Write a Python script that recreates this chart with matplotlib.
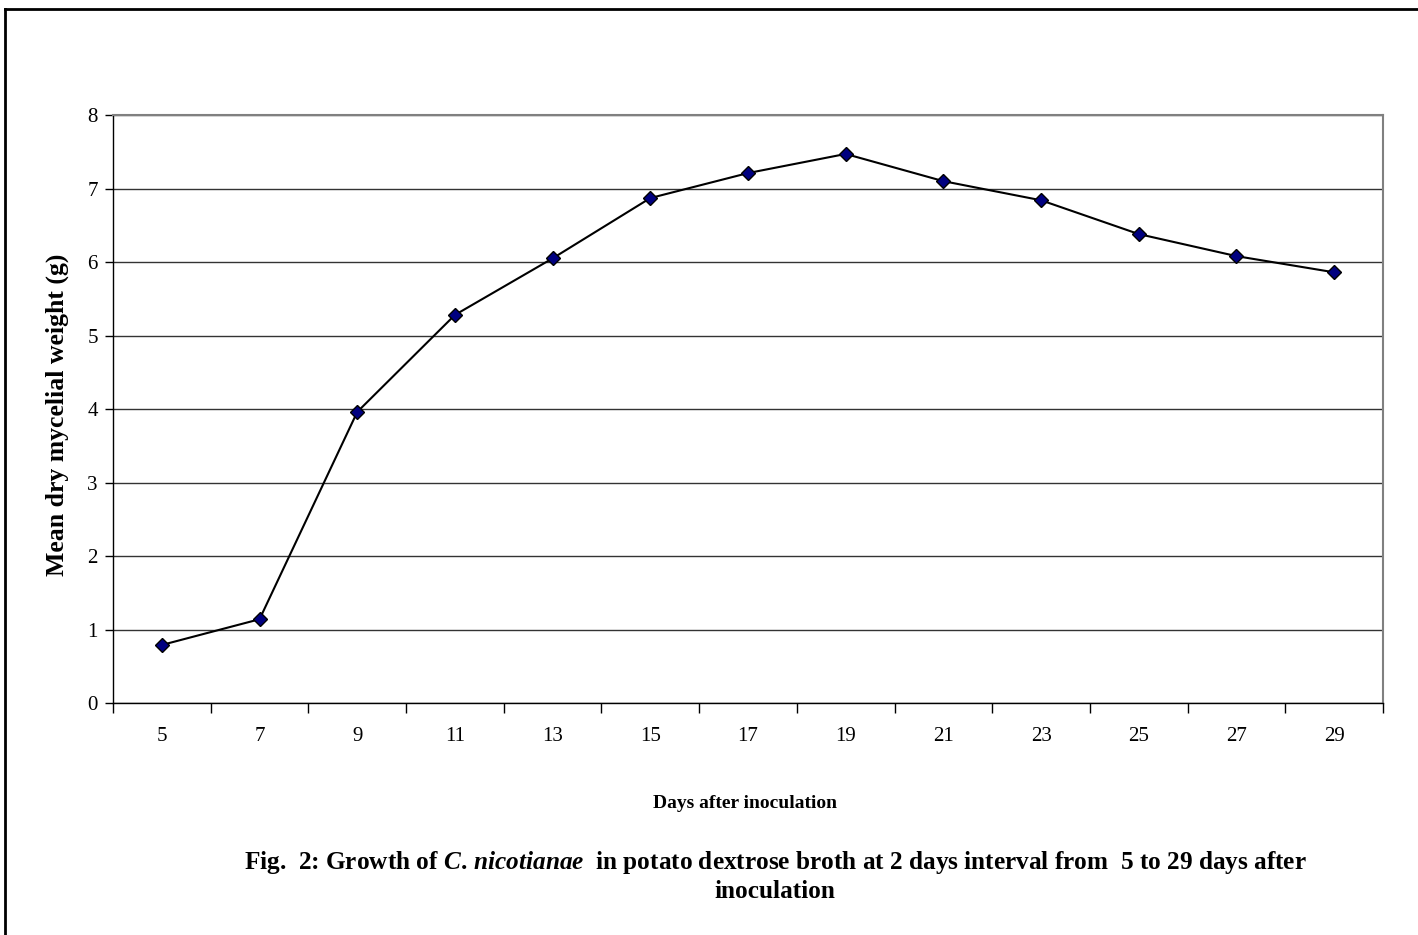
import matplotlib.pyplot as plt
from matplotlib.lines import Line2D

# Days after inoculation and mean dry mycelial weight (g)
days = [5, 7, 9, 11, 13, 15, 17, 19, 21, 23, 25, 27, 29]
weight = [0.79, 1.14, 3.96, 5.28, 6.05, 6.87, 7.21, 7.47, 7.10, 6.84, 6.38, 6.08, 5.86]

plt.rcParams['font.family'] = 'Liberation Serif'
plt.rcParams['mathtext.fontset'] = 'custom'
plt.rcParams['mathtext.rm'] = 'Liberation Serif:bold'
plt.rcParams['mathtext.it'] = 'Liberation Serif:italic:bold'

fig = plt.figure(figsize=(14.18, 9.35), dpi=100)
ax = fig.add_axes([0.0797, 0.2481, 0.8956, 0.6289])

pos = list(range(len(days)))
ax.plot(pos, weight, color='black', lw=1.5, marker='D', markersize=7.5,
        markerfacecolor='#000080', markeredgecolor='black', markeredgewidth=1, zorder=3)

ax.set_xlim(-0.5, len(days) - 0.5)
ax.set_ylim(0, 8)
ax.set_yticks(range(0, 9))
ax.yaxis.grid(True, color='#333333', lw=1)
ax.set_axisbelow(True)

# category labels centered, tick marks between categories
ax.set_xticks([p - 0.5 for p in pos] + [len(days) - 0.5])
ax.set_xticklabels([])
ax.set_xticks(pos, minor=True)
ax.set_xticklabels([str(d) for d in days], minor=True)
ax.tick_params(axis='x', which='major', direction='out', length=7, width=1, color='black')
ax.tick_params(axis='x', which='minor', length=0, pad=17, labelsize=15)
ax.tick_params(axis='y', direction='out', length=6, width=1, labelsize=15, pad=5)

ax.spines['top'].set_color('#808080')
ax.spines['right'].set_color('#808080')
ax.spines['top'].set_linewidth(1.5)
ax.spines['right'].set_linewidth(1.5)
ax.spines['left'].set_linewidth(1)
ax.spines['bottom'].set_linewidth(1)

fig.text(57 / 1418, 1 - 415 / 935, 'Mean dry mycelial weight (g)', rotation=90,
         ha='center', va='center', fontsize=18.5, fontweight='bold')
fig.text(745 / 1418, 1 - 803 / 935, 'Days after inoculation', ha='center', va='center',
         fontsize=14, fontweight='bold')

fig.text(775 / 1418, 1 - 863 / 935,
         r'Fig.  2: Growth of $\mathit{C.}\,\mathit{nicotianae}$  in potato dextrose broth at 2 days interval from  5 to 29 days after',
         ha='center', va='center', fontsize=18.2, fontweight='bold')
fig.text(775 / 1418, 1 - 892 / 935, 'inoculation', ha='center', va='center',
         fontsize=18.2, fontweight='bold')

# frame along top and left edges
fig.add_artist(Line2D([5 / 1418, 1], [1 - 9 / 935, 1 - 9 / 935], color='black', lw=2,
                      transform=fig.transFigure))
fig.add_artist(Line2D([5 / 1418, 5 / 1418], [0, 1 - 9 / 935], color='black', lw=2,
                      transform=fig.transFigure))

fig.savefig('out.png', dpi=100)
